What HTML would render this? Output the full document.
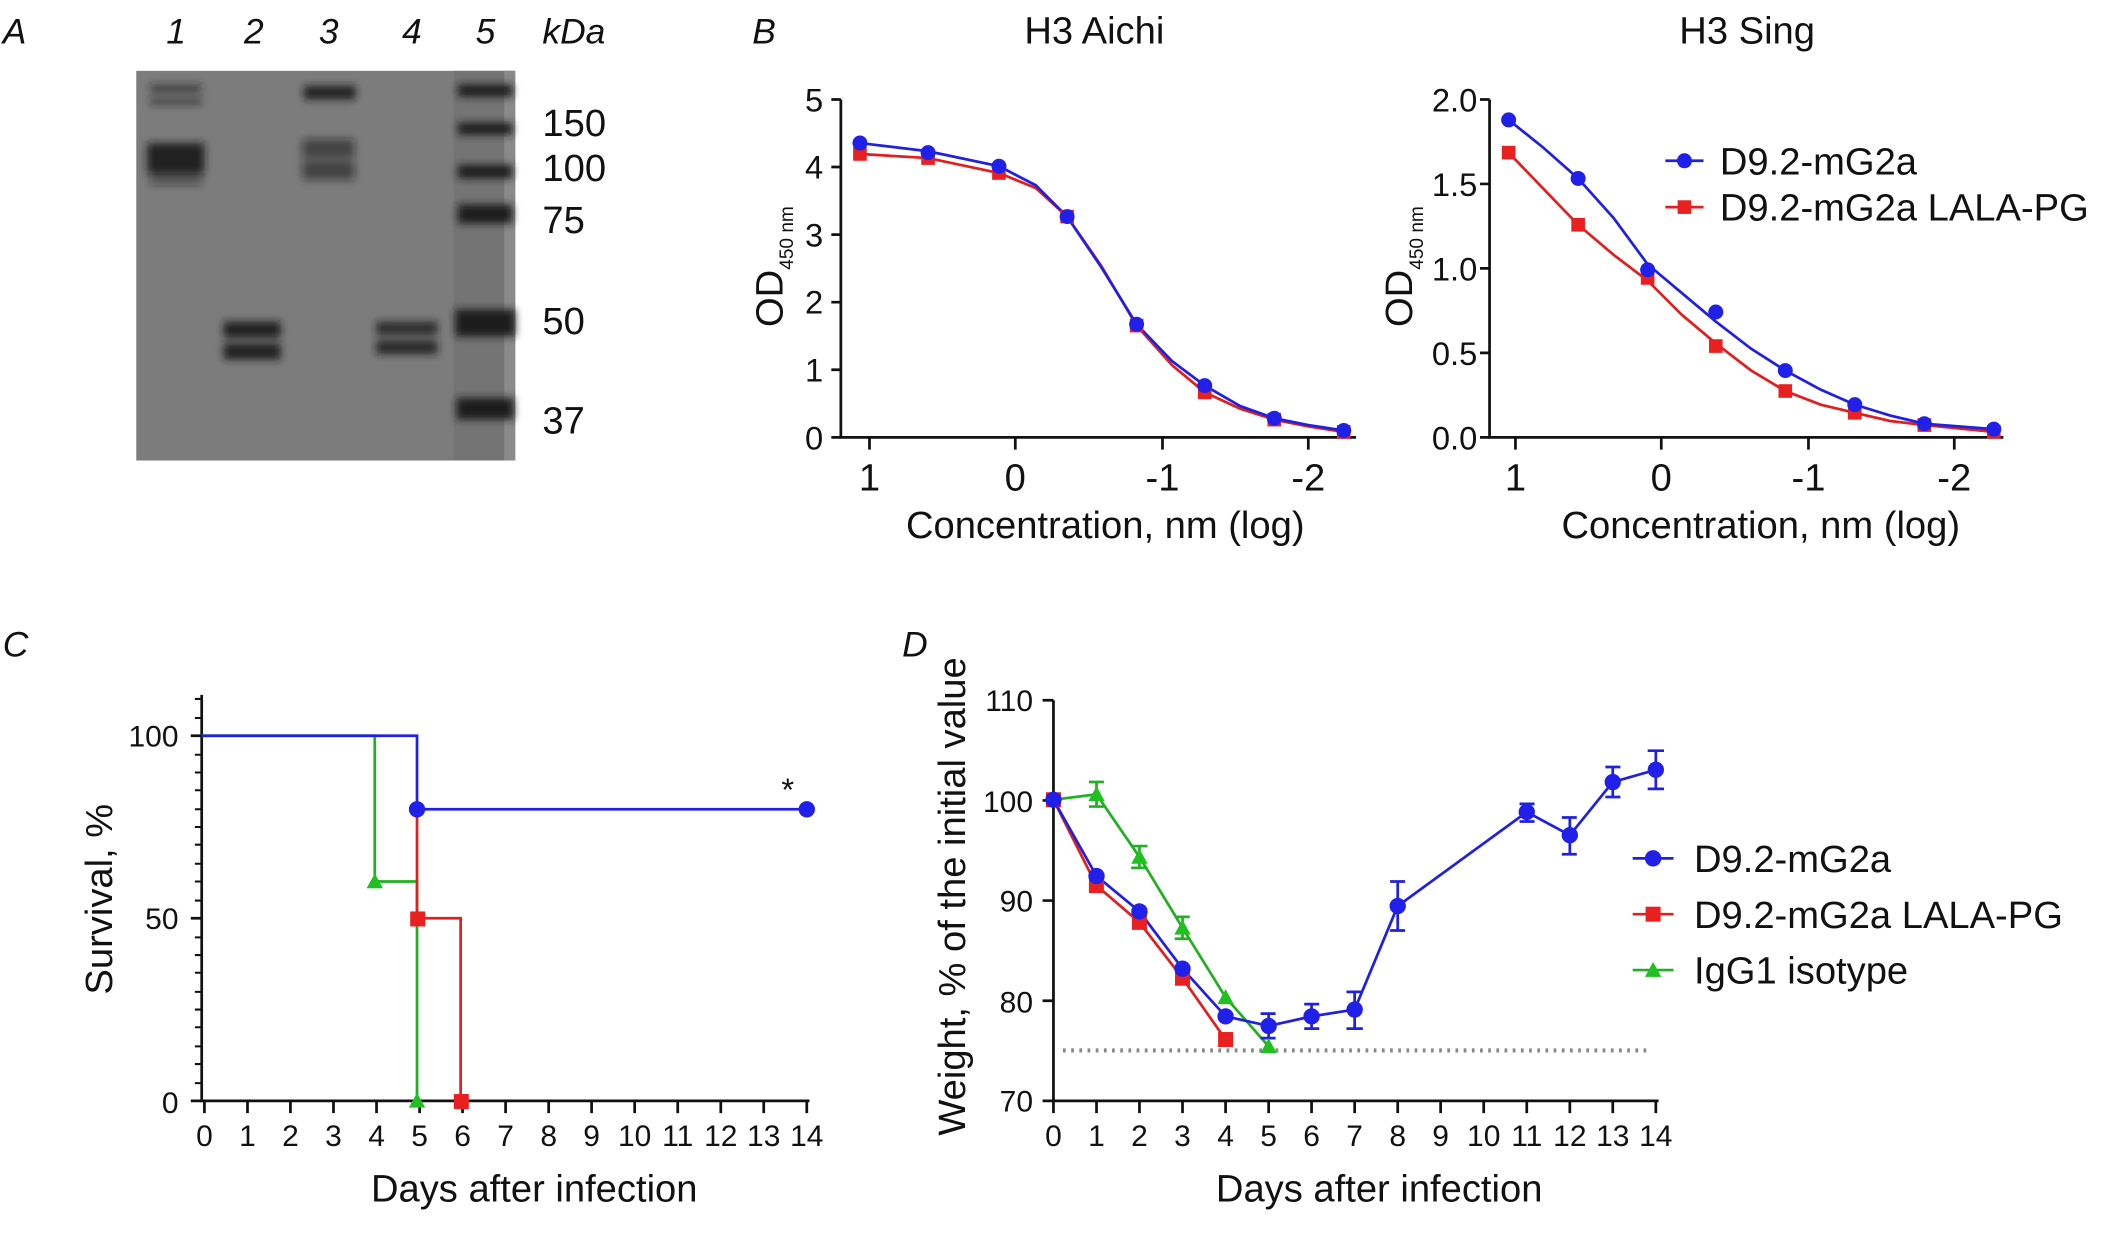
<!DOCTYPE html>
<html><head><meta charset="utf-8"><style>
html,body{margin:0;padding:0;background:#fff;}
svg{display:block;}
text{font-family:"Liberation Sans",sans-serif;fill:#111;}
</style></head><body>
<svg width="2126" height="1233" viewBox="0 0 1560 905" preserveAspectRatio="none" xmlns="http://www.w3.org/2000/svg">
<defs>
<filter id="bl"><feGaussianBlur stdDeviation="3"/></filter>
<filter id="bl2"><feGaussianBlur stdDeviation="1.5"/></filter>
</defs>
<!-- Panel letters -->
<g font-size="26" font-style="italic">
<text x="2" y="32">A</text><text x="552" y="32">B</text><text x="2" y="482">C</text><text x="662" y="482">D</text>
</g>
<!-- Gel -->
<g font-size="26" font-style="italic">
<text x="122" y="32">1</text><text x="179" y="32">2</text><text x="234" y="32">3</text><text x="295" y="32">4</text><text x="349" y="32">5</text><text x="398" y="32">kDa</text>
</g>
<rect x="100" y="52" width="278" height="286" fill="#7c7c7c"/>
<rect x="333" y="52" width="45" height="286" fill="#747474"/>
<rect x="370" y="52" width="8" height="286" fill="#8a8a8a"/>
<g filter="url(#bl)" fill="#1a1a1a">
<rect x="110" y="62" width="38" height="6" opacity=".6"/>
<rect x="110" y="72" width="38" height="5" opacity=".6"/>
<rect x="108" y="105" width="42" height="22" opacity=".9"/>
<rect x="110" y="124" width="38" height="12" opacity=".4"/>
<rect x="223" y="63" width="38" height="10" opacity=".9"/>
<rect x="222" y="102" width="38" height="14" opacity=".55"/>
<rect x="222" y="118" width="38" height="14" opacity=".55"/>
<rect x="164" y="236" width="42" height="12" opacity=".9"/>
<rect x="164" y="252" width="42" height="12" opacity=".95"/>
<rect x="276" y="236" width="45" height="10" opacity=".8"/>
<rect x="276" y="250" width="45" height="10" opacity=".85"/>
<rect x="336" y="62" width="40" height="9"/>
<rect x="336" y="90" width="40" height="9"/>
<rect x="336" y="121" width="40" height="10"/>
<rect x="336" y="150" width="40" height="14"/>
<rect x="334" y="227" width="44" height="20"/>
<rect x="335" y="292" width="42" height="16"/>
</g>
<g font-size="28">
<text x="398" y="100">150</text><text x="398" y="133">100</text><text x="398" y="171">75</text><text x="398" y="245">50</text><text x="398" y="318">37</text>
</g>

<!-- Panel B left -->
<text x="803" y="32" font-size="28" text-anchor="middle">H3 Aichi</text>
<g stroke="#111" stroke-width="2" fill="none">
<path d="M617 73V321H995"/>
<path d="M610 73H617M610 122.6H617M610 172.2H617M610 221.8H617M610 271.4H617M610 321H617"/>
<path d="M638 321V330M745 321V330M853 321V330M960 321V330"/>
</g>
<g font-size="24" text-anchor="end"><text x="604" y="82">5</text><text x="604" y="131">4</text><text x="604" y="181">3</text><text x="604" y="230">2</text><text x="604" y="280">1</text><text x="604" y="330">0</text></g>
<g font-size="28" text-anchor="middle"><text x="638" y="360">1</text><text x="745" y="360">0</text><text x="853" y="360">-1</text><text x="960" y="360">-2</text></g>
<text x="811" y="395" font-size="28" text-anchor="middle">Concentration, nm (log)</text>
<text transform="translate(574,240) rotate(-90)" font-size="28">OD<tspan font-size="14" dy="8">450 nm</tspan></text>
<polyline fill="none" stroke="#e02020" stroke-width="2" points="631,113 681,116 733,127 760,138 783,159 808,195 834,239 860,268 884,288 910,300 935,308 960,313 986,317"/>
<polyline fill="none" stroke="#2020e0" stroke-width="2" points="631,105 681,111 733,122 760,136 783,159 808,196 834,238 860,265 884,283 910,298 935,307 960,312 986,316"/>
<g fill="#e82020"><rect x="626" y="108" width="10" height="10"/><rect x="676" y="111" width="10" height="10"/><rect x="728" y="122" width="10" height="10"/><rect x="778" y="154" width="10" height="10"/><rect x="829" y="234" width="10" height="10"/><rect x="879" y="283" width="10" height="10"/><rect x="930" y="303" width="10" height="10"/><rect x="981" y="312" width="10" height="10"/></g>
<g fill="#2020e8"><circle cx="631" cy="105" r="5.5"/><circle cx="681" cy="112" r="5.5"/><circle cx="733" cy="122" r="5.5"/><circle cx="783" cy="159" r="5.5"/><circle cx="834" cy="238" r="5.5"/><circle cx="884" cy="283" r="5.5"/><circle cx="935" cy="307" r="5.5"/><circle cx="986" cy="316" r="5.5"/></g>

<!-- Panel B right -->
<text x="1282" y="32" font-size="28" text-anchor="middle">H3 Sing</text>
<g stroke="#111" stroke-width="2" fill="none">
<path d="M1093 73V321H1470"/>
<path d="M1086 73H1093M1086 135H1093M1086 197H1093M1086 259H1093M1086 321H1093"/>
<path d="M1112 321V330M1219 321V330M1327 321V330M1434 321V330"/>
</g>
<g font-size="24" text-anchor="end"><text x="1084" y="82">2.0</text><text x="1084" y="144">1.5</text><text x="1084" y="206">1.0</text><text x="1084" y="268">0.5</text><text x="1084" y="330">0.0</text></g>
<g font-size="28" text-anchor="middle"><text x="1112" y="360">1</text><text x="1219" y="360">0</text><text x="1327" y="360">-1</text><text x="1434" y="360">-2</text></g>
<text x="1292" y="395" font-size="28" text-anchor="middle">Concentration, nm (log)</text>
<text transform="translate(1036,240) rotate(-90)" font-size="28">OD<tspan font-size="14" dy="8">450 nm</tspan></text>
<polyline fill="none" stroke="#e02020" stroke-width="2" points="1107,112 1132,138 1158,165 1184,187 1209,206 1234,231 1259,252 1285,272 1310,287 1336,297 1361,303 1387,309 1412,312 1463,317"/>
<polyline fill="none" stroke="#2020e0" stroke-width="2" points="1107,88 1132,108 1158,131 1184,160 1209,194 1234,215 1259,236 1285,256 1310,272 1336,286 1361,297 1387,305 1412,311 1463,315"/>
<g fill="#e82020"><rect x="1102" y="107" width="10" height="10"/><rect x="1153" y="160" width="10" height="10"/><rect x="1204" y="199" width="10" height="10"/><rect x="1254" y="249" width="10" height="10"/><rect x="1305" y="282" width="10" height="10"/><rect x="1356" y="298" width="10" height="10"/><rect x="1407" y="307" width="10" height="10"/><rect x="1458" y="312" width="10" height="10"/></g>
<g fill="#2020e8"><circle cx="1107" cy="88" r="5.5"/><circle cx="1158" cy="131" r="5.5"/><circle cx="1209" cy="198" r="5.5"/><circle cx="1259" cy="229" r="5.5"/><circle cx="1310" cy="272" r="5.5"/><circle cx="1361" cy="297" r="5.5"/><circle cx="1412" cy="311" r="5.5"/><circle cx="1463" cy="315" r="5.5"/></g>
<line x1="1222" y1="118" x2="1250" y2="118" stroke="#2020e0" stroke-width="2"/><circle cx="1236" cy="118" r="5.5" fill="#2020e8"/>
<line x1="1222" y1="152" x2="1250" y2="152" stroke="#e02020" stroke-width="2"/><rect x="1231" y="147" width="10" height="10" fill="#e82020"/>
<g font-size="28"><text x="1262" y="128">D9.2-mG2a</text><text x="1262" y="162">D9.2-mG2a LALA-PG</text></g>

<!-- Panel C -->
<g stroke="#111" stroke-width="2" fill="none">
<path d="M148 510V808H594"/>
<path d="M140 540H148M140 674H148M140 808H148"/>
<path d="M143 513H148M143 527H148M143 554H148M143 567H148M143 580H148M143 594H148M143 607H148M143 620H148M143 634H148M143 647H148M143 661H148M143 688H148M143 701H148M143 714H148M143 728H148M143 741H148M143 754H148M143 768H148M143 781H148M143 795H148" stroke-width="1.5"/>
<path d="M150 808V817M181.6 808V817M213.1 808V817M244.7 808V817M276.3 808V817M307.9 808V817M339.4 808V817M371 808V817M402.6 808V817M434.1 808V817M465.7 808V817M497.3 808V817M528.9 808V817M560.4 808V817M592 808V817"/>
</g>
<g font-size="22" text-anchor="end"><text x="131" y="548">100</text><text x="131" y="682">50</text><text x="131" y="817">0</text></g>
<g font-size="22" text-anchor="middle"><text x="150" y="841">0</text><text x="181.6" y="841">1</text><text x="213.1" y="841">2</text><text x="244.7" y="841">3</text><text x="276.3" y="841">4</text><text x="307.9" y="841">5</text><text x="339.4" y="841">6</text><text x="371" y="841">7</text><text x="402.6" y="841">8</text><text x="434.1" y="841">9</text><text x="465.7" y="841">10</text><text x="497.3" y="841">11</text><text x="528.9" y="841">12</text><text x="560.4" y="841">13</text><text x="592" y="841">14</text></g>
<text x="392" y="882" font-size="28" text-anchor="middle">Days after infection</text>
<text transform="translate(82,660) rotate(-90)" font-size="28" text-anchor="middle">Survival, %</text>
<polyline fill="none" stroke="#20b020" stroke-width="2" points="148,540 275,540 275,647 306,647 306,808"/>
<polyline fill="none" stroke="#e02020" stroke-width="2" points="306,594 306,674 338,674 338,808"/>
<polyline fill="none" stroke="#2020e0" stroke-width="2" points="148,540 306,540 306,594 592,594"/>
<g fill="#20c020"><path d="M275,641 L281,652 L269,652Z"/><path d="M306,802 L312,813 L300,813Z"/></g>
<g fill="#e82020"><rect x="301" y="669" width="11" height="11"/><rect x="333" y="803" width="11" height="11"/></g>
<g fill="#2020e8"><circle cx="306" cy="594" r="6"/><circle cx="592" cy="594" r="6"/></g>
<text x="578" y="588" font-size="24" text-anchor="middle">*</text>

<!-- Panel D -->
<g stroke="#111" stroke-width="2" fill="none">
<path d="M773 514V808H1217"/>
<path d="M765 514H773M765 587.5H773M765 661H773M765 734.5H773M765 808H773"/>
<path d="M773 808V817M804.6 808V817M836.1 808V817M867.7 808V817M899.3 808V817M930.9 808V817M962.4 808V817M994 808V817M1025.6 808V817M1057.1 808V817M1088.7 808V817M1120.3 808V817M1151.9 808V817M1183.4 808V817M1215 808V817"/>
</g>
<line x1="780" y1="771" x2="1210" y2="771" stroke="#888" stroke-width="3" stroke-dasharray="2,4"/>
<g font-size="22" text-anchor="end"><text x="758" y="522">110</text><text x="758" y="596">100</text><text x="758" y="669">90</text><text x="758" y="743">80</text><text x="758" y="816">70</text></g>
<g font-size="22" text-anchor="middle"><text x="773" y="841">0</text><text x="804.6" y="841">1</text><text x="836.1" y="841">2</text><text x="867.7" y="841">3</text><text x="899.3" y="841">4</text><text x="930.9" y="841">5</text><text x="962.4" y="841">6</text><text x="994" y="841">7</text><text x="1025.6" y="841">8</text><text x="1057.1" y="841">9</text><text x="1088.7" y="841">10</text><text x="1120.3" y="841">11</text><text x="1151.9" y="841">12</text><text x="1183.4" y="841">13</text><text x="1215" y="841">14</text></g>
<text x="1012" y="882" font-size="28" text-anchor="middle">Days after infection</text>
<text transform="translate(708,658) rotate(-90)" font-size="28" text-anchor="middle">Weight, % of the initial value</text>
<polyline fill="none" stroke="#20b020" stroke-width="2" points="773,587 804.6,583 836.1,629 867.7,681 899.3,732 930.9,768"/>
<polyline fill="none" stroke="#e02020" stroke-width="2" points="773,587 804.6,650 836.1,677 867.7,718 899.3,763"/>
<polyline fill="none" stroke="#2020e0" stroke-width="2" points="773,587 804.6,643 836.1,669 867.7,711 899.3,746 930.9,753 962.4,746 994,741 1025.6,665 1120.3,596 1151.9,613 1183.4,574 1215,565"/>
<g stroke="#2020e0" stroke-width="2" fill="none">
<path d="M1020 647H1031M1025.6 647V683M1020 683H1031"/>
<path d="M1146 600H1157M1151.9 600V627M1146 627H1157"/>
<path d="M1178 563H1189M1183.4 563V585M1178 585H1189"/>
<path d="M1209 551H1221M1215 551V579M1209 579H1221"/>
<path d="M988 728H1000M994 728V755M988 755H1000"/>
<path d="M957 737H968M962.4 737V755M957 755H968"/>
<path d="M925 744H936M930.9 744V762M925 762H936"/>
<path d="M1115 590H1126M1120.3 590V603M1115 603H1126"/>
</g>
<g stroke="#20b020" stroke-width="2" fill="none">
<path d="M799 574H810M804.6 574V592M799 592H810"/>
<path d="M830 621H842M836.1 621V637M830 637H842"/>
<path d="M862 673H873M867.7 673V689M862 689H873"/>
</g>
<g fill="#20c020"><path d="M773,581 L779,592 L767,592Z"/><path d="M804.6,577 L810.6,588 L798.6,588Z"/><path d="M836.1,623 L842.1,634 L830.1,634Z"/><path d="M867.7,675 L873.7,686 L861.7,686Z"/><path d="M899.3,726 L905.3,737 L893.3,737Z"/><path d="M930.9,762 L936.9,773 L924.9,773Z"/></g>
<g fill="#e82020"><rect x="767.5" y="581.5" width="11" height="11"/><rect x="799" y="644.5" width="11" height="11"/><rect x="830.6" y="671.5" width="11" height="11"/><rect x="862.2" y="712.5" width="11" height="11"/><rect x="893.8" y="757.5" width="11" height="11"/></g>
<g fill="#2020e8"><circle cx="773" cy="587" r="6"/><circle cx="804.6" cy="643" r="6"/><circle cx="836.1" cy="669" r="6"/><circle cx="867.7" cy="711" r="6"/><circle cx="899.3" cy="746" r="6"/><circle cx="930.9" cy="753" r="6"/><circle cx="962.4" cy="746" r="6"/><circle cx="994" cy="741" r="6"/><circle cx="1025.6" cy="665" r="6"/><circle cx="1120.3" cy="596" r="6"/><circle cx="1151.9" cy="613" r="6"/><circle cx="1183.4" cy="574" r="6"/><circle cx="1215" cy="565" r="6"/></g>
<line x1="1198" y1="630" x2="1228" y2="630" stroke="#2020e0" stroke-width="2"/><circle cx="1213" cy="630" r="6" fill="#2020e8"/>
<line x1="1198" y1="671" x2="1228" y2="671" stroke="#e02020" stroke-width="2"/><rect x="1207.5" y="665.5" width="11" height="11" fill="#e82020"/>
<line x1="1198" y1="712" x2="1228" y2="712" stroke="#20b020" stroke-width="2"/><path d="M1213,706 L1219,717 L1207,717Z" fill="#20c020"/>
<g font-size="28"><text x="1243" y="640">D9.2-mG2a</text><text x="1243" y="681">D9.2-mG2a LALA-PG</text><text x="1243" y="722">IgG1 isotype</text></g>
</svg>
</body></html>
